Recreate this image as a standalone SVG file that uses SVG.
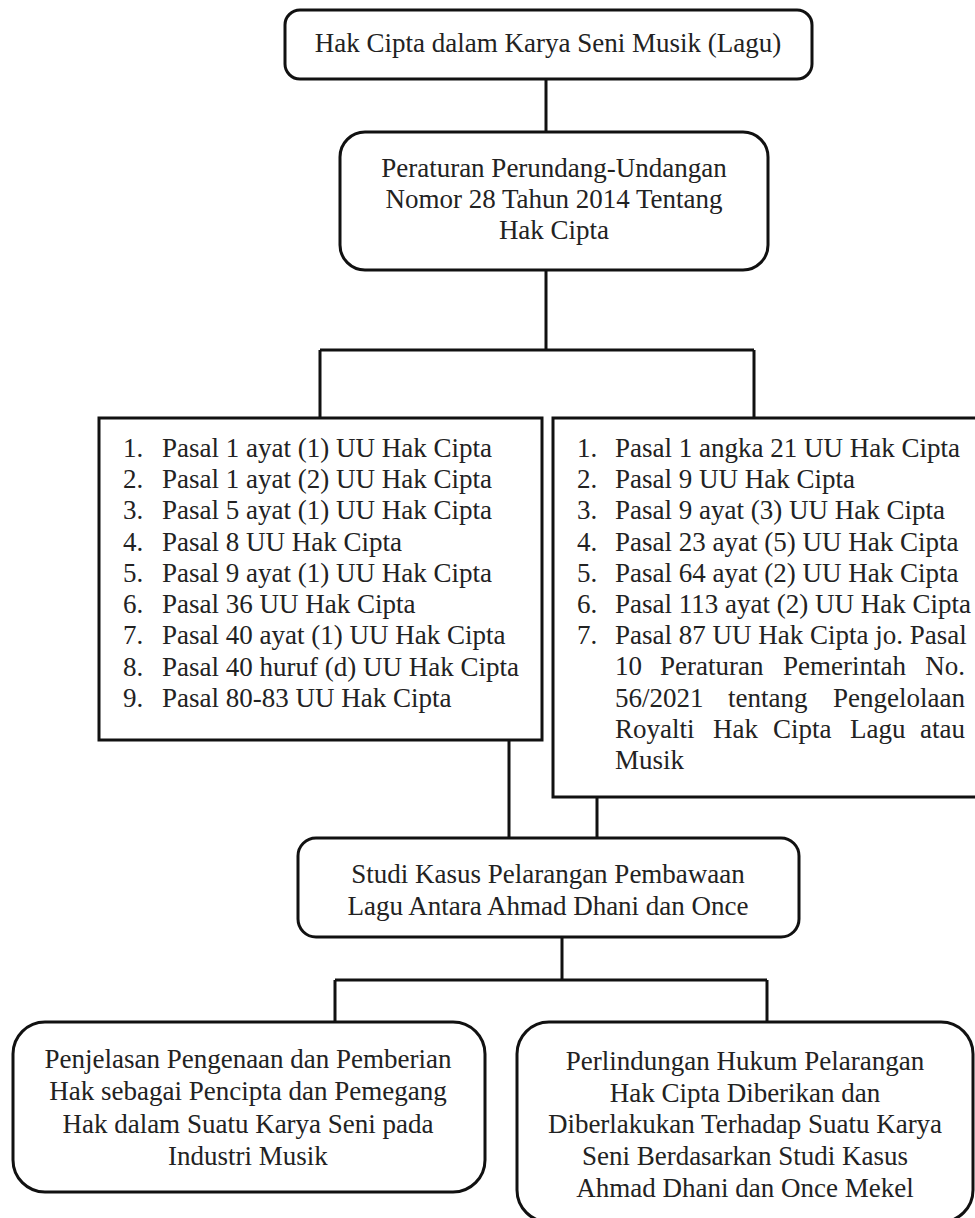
<svg xmlns="http://www.w3.org/2000/svg" width="975" height="1218" viewBox="0 0 975 1218">
<style>
.box{fill:#fff;stroke:#111;stroke-width:3}
.con{fill:none;stroke:#111;stroke-width:3}
text{font-family:"Liberation Serif","Times New Roman",serif;font-size:27px;fill:#222}
.c{text-anchor:middle}
.e{text-anchor:end}
</style>
<rect width="975" height="1218" fill="#fff"/>
<g id="connectors">
<path class="con" d="M546,79 V132"/>
<path class="con" d="M546,270 V350 M320,350 H754 M320,350 V418 M754,350 V418"/>
<path class="con" d="M509,740 V838 M597,797 V838"/>
<path class="con" d="M562,937 V980 M335,980 H767 M335,980 V1022 M767,980 V1022"/>
</g>
<g id="n1">
<rect class="box" x="285" y="10" width="527" height="69" rx="15"/>
<text class="c" x="548" y="52">Hak Cipta dalam Karya Seni Musik (Lagu)</text>
</g>
<g id="n2">
<rect class="box" x="340" y="132" width="428" height="138" rx="25"/>
<text class="c" x="554" y="177">Peraturan Perundang-Undangan</text>
<text class="c" x="554" y="208">Nomor 28 Tahun 2014 Tentang</text>
<text class="c" x="554" y="239">Hak Cipta</text>
</g>
<g id="n3">
<rect class="box" x="99" y="418" width="443" height="322"/>
<text x="123" y="457">1.</text><text x="162" y="457">Pasal 1 ayat (1) UU Hak Cipta</text>
<text x="123" y="488">2.</text><text x="162" y="488">Pasal 1 ayat (2) UU Hak Cipta</text>
<text x="123" y="519">3.</text><text x="162" y="519">Pasal 5 ayat (1) UU Hak Cipta</text>
<text x="123" y="551">4.</text><text x="162" y="551">Pasal 8 UU Hak Cipta</text>
<text x="123" y="582">5.</text><text x="162" y="582">Pasal 9 ayat (1) UU Hak Cipta</text>
<text x="123" y="613">6.</text><text x="162" y="613">Pasal 36 UU Hak Cipta</text>
<text x="123" y="644">7.</text><text x="162" y="644">Pasal 40 ayat (1) UU Hak Cipta</text>
<text x="123" y="676">8.</text><text x="162" y="676">Pasal 40 huruf (d) UU Hak Cipta</text>
<text x="123" y="707">9.</text><text x="162" y="707">Pasal 80-83 UU Hak Cipta</text>
</g>
<g id="n4">
<rect class="box" x="553" y="418" width="440" height="379"/>
<text x="577" y="457">1.</text><text x="615" y="457">Pasal 1 angka 21 UU Hak Cipta</text>
<text x="577" y="488">2.</text><text x="615" y="488">Pasal 9 UU Hak Cipta</text>
<text x="577" y="519">3.</text><text x="615" y="519">Pasal 9 ayat (3) UU Hak Cipta</text>
<text x="577" y="551">4.</text><text x="615" y="551">Pasal 23 ayat (5) UU Hak Cipta</text>
<text x="577" y="582">5.</text><text x="615" y="582">Pasal 64 ayat (2) UU Hak Cipta</text>
<text x="577" y="613">6.</text><text x="615" y="613">Pasal 113 ayat (2) UU Hak Cipta</text>
<text x="577" y="644">7.</text><text x="615" y="644">Pasal 87 UU Hak Cipta jo. Pasal</text>
<text x="615" y="675">10</text><text x="660" y="675">Peraturan</text><text x="783" y="675">Pemerintah</text><text class="e" x="965" y="675">No.</text>
<text x="615" y="707">56/2021</text><text x="728" y="707">tentang</text><text class="e" x="965" y="707">Pengelolaan</text>
<text x="615" y="738">Royalti</text><text x="713" y="738">Hak</text><text x="773" y="738">Cipta</text><text x="850" y="738">Lagu</text><text class="e" x="965" y="738">atau</text>
<text x="615" y="769">Musik</text>
</g>
<g id="n5">
<rect class="box" x="298" y="838" width="501" height="99" rx="18"/>
<text class="c" x="548" y="883">Studi Kasus Pelarangan Pembawaan</text>
<text class="c" x="548" y="915">Lagu Antara Ahmad Dhani dan Once</text>
</g>
<g id="n6">
<rect class="box" x="13" y="1022" width="472" height="170" rx="32"/>
<text class="c" x="248" y="1068">Penjelasan Pengenaan dan Pemberian</text>
<text class="c" x="248" y="1100">Hak sebagai Pencipta dan Pemegang</text>
<text class="c" x="248" y="1133">Hak dalam Suatu Karya Seni pada</text>
<text class="c" x="248" y="1165">Industri Musik</text>
</g>
<g id="n7">
<rect class="box" x="517" y="1022" width="456" height="200" rx="32"/>
<text class="c" x="745" y="1070">Perlindungan Hukum Pelarangan</text>
<text class="c" x="745" y="1102">Hak Cipta Diberikan dan</text>
<text class="c" x="745" y="1133">Diberlakukan Terhadap Suatu Karya</text>
<text class="c" x="745" y="1165">Seni Berdasarkan Studi Kasus</text>
<text class="c" x="745" y="1197">Ahmad Dhani dan Once Mekel</text>
</g>
</svg>
